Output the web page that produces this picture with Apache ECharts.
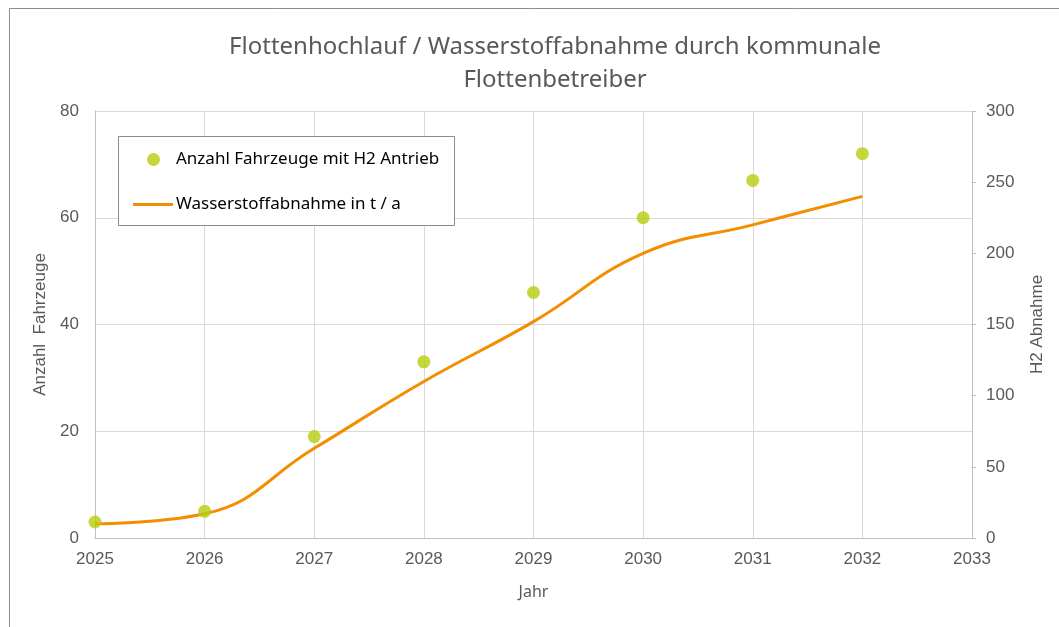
<!DOCTYPE html>
<html>
<head>
<meta charset="utf-8">
<script src="https://cdn.jsdelivr.net/npm/echarts@6/dist/echarts.min.js"></script>
<style>
  html, body { margin: 0; padding: 0; background: #fff; }
  #chart { width: 1059px; height: 627px; }
</style>
</head>
<body>
<div id="chart"></div>
<script>
var years = [2025, 2026, 2027, 2028, 2029, 2030, 2031, 2032];
var fahrzeuge = [3, 5, 19, 33, 46, 60, 67, 72];          // Anzahl Fahrzeuge (left axis)
var abnahme = [10, 17, 63, 110, 152, 200, 220, 240];       // H2 Abnahme t/a (right axis)
var nameFz = 'Anzahl Fahrzeuge mit H2 Antrieb';
var nameH2 = 'Wasserstoffabnahme in t / a';

var grey = '#595959';
var gridCol = '#d9d9d9';
var axisCol = '#bfbfbf';

var chart = echarts.init(document.getElementById('chart'));

function pairs(xs, ys) {
  return xs.map(function(x, i) { return [x, ys[i]]; });
}

chart.setOption({
  animation: false,
  title: {
    text: 'Flottenhochlauf / Wasserstoffabnahme durch kommunale\nFlottenbetreiber',
    left: 550,
    top: 26,
    textAlign: 'center',
    textStyle: { fontFamily: 'Noto Sans', fontSize: 24, fontWeight: 'normal', color: grey, lineHeight: 33 }
  },
  graphic: [
    { type: 'rect', shape: { x: 9.5, y: 8.5, width: 1200, height: 800 }, style: { fill: 'none', stroke: '#8c8c8c', lineWidth: 1 }, silent: true },
    { type: 'rect', z: 10, shape: { x: 118.5, y: 136.5, width: 336, height: 89 }, style: { fill: '#fff', stroke: '#8c8c8c', lineWidth: 1 }, silent: true }
  ],
  legend: [{
    data: [{ name: nameFz, icon: 'circle' }],
    left: 147, top: 151, z: 20, padding: 0,
    itemWidth: 13, itemHeight: 13,
    textStyle: { fontFamily: 'Noto Sans', fontSize: 17, color: '#000', padding: [0, 0, 0, 11] }
  }, {
    data: [{ name: nameH2, icon: 'rect' }],
    left: 133, top: 196, z: 20, padding: 0,
    itemWidth: 40, itemHeight: 3,
    textStyle: { fontFamily: 'Noto Sans', fontSize: 17, color: '#000', padding: [0, 0, 0, -2] }
  }],
  grid: { left: 95, right: 87, top: 111, bottom: 89 },
  xAxis: {
    type: 'value', min: 2025, max: 2033, interval: 1,
    name: 'Jahr', nameLocation: 'middle', nameGap: 46,
    nameTextStyle: { fontFamily: 'Noto Sans', fontSize: 16, color: grey },
    axisLine: { show: true, lineStyle: { color: axisCol } },
    axisTick: { show: false },
    axisLabel: { color: grey, fontFamily: 'Liberation Sans', fontSize: 17, margin: 13, formatter: function(v) { return String(v); } },
    splitLine: { show: true, lineStyle: { color: gridCol } }
  },
  yAxis: [{
    type: 'value', min: 0, max: 80, interval: 20, position: 'left',
    name: 'Anzahl  Fahrzeuge', nameLocation: 'middle', nameGap: 44, nameRotate: 90,
    nameTextStyle: { fontFamily: 'Liberation Sans', fontSize: 17, color: grey },
    axisLine: { show: true, lineStyle: { color: axisCol } },
    axisTick: { show: false },
    axisLabel: { color: grey, fontFamily: 'Liberation Sans', fontSize: 17, margin: 16 },
    splitLine: { show: true, lineStyle: { color: gridCol } }
  }, {
    type: 'value', min: 0, max: 300, interval: 50, position: 'right',
    name: 'H2 Abnahme', nameLocation: 'middle', nameGap: 57, nameRotate: 90,
    nameTextStyle: { fontFamily: 'Liberation Sans', fontSize: 17, color: grey },
    axisLine: { show: true, lineStyle: { color: axisCol } },
    axisTick: { show: true, length: 4, lineStyle: { color: axisCol } },
    axisLabel: { color: grey, fontFamily: 'Liberation Sans', fontSize: 17, margin: 14 },
    splitLine: { show: false }
  }],
  series: [{
    name: nameH2,
    type: 'line',
    yAxisIndex: 1,
    data: pairs(years, abnahme),
    smooth: 0.45,
    showSymbol: false,
    itemStyle: { color: '#f28e00' },
    lineStyle: { color: '#f28e00', width: 3 },
    z: 2
  }, {
    name: nameFz,
    type: 'scatter',
    yAxisIndex: 0,
    data: pairs(years, fahrzeuge),
    symbolSize: 13,
    itemStyle: { color: '#b8cc0d' },
    z: 3
  }]
});
</script>
</body>
</html>
